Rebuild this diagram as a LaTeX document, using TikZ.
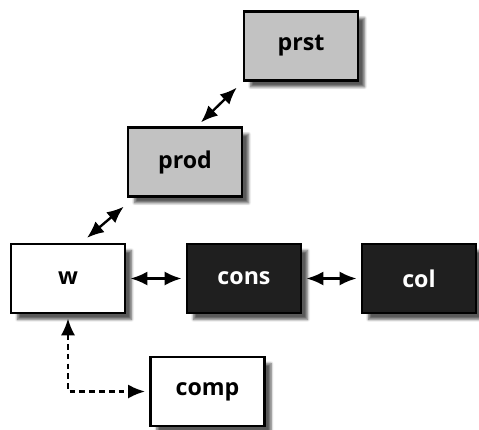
\documentclass[tikz,border=0pt]{standalone}
\usepackage{fontspec}
\setmainfont{Open Sans}
\usetikzlibrary{arrows.meta,shadows.blur}

\begin{document}
\begin{tikzpicture}[x=0.025cm,y=-0.025cm,
  box/.style={rectangle,draw,line width=1.8pt,minimum width=2.85cm,minimum height=1.72cm,
    font=\fontsize{16.5}{18}\selectfont\bfseries,
    blur shadow={shadow xshift=6.5*0.025cm,shadow yshift=-6.5*0.025cm,shadow blur steps=6,shadow blur radius=1.8pt,shadow opacity=65}},
  greybox/.style={box,fill=gray!48},
  darkbox/.style={box,fill=black!88,text=white},
  lightbox/.style={box,fill=white},
  link/.style={{Latex[length=12pt,width=10pt]}-{Latex[length=12pt,width=10pt]},line width=1.7pt,shorten <=3pt,shorten >=3pt}]
  \useasboundingbox (0,0) rectangle (479,429);

  \node [greybox]  (prst) at (301,46)    {prst};
  \node [greybox]  (prod) at (185,162)   {prod};
  \node [lightbox] (w)    at (68,278.5)  {w};
  \node [darkbox]  (cons) at (244,278.5) {cons};
  \node [darkbox]  (col)  at (419,278.5) {col};
  \node [lightbox] (comp) at (207.5,391.5) {comp};

  \draw [link,shorten <=0pt,shorten >=0pt] ([shift={(19,-5)}]w.north) -- ([shift={(-3,9)}]prod.south west);
  \draw [link,shorten <=0pt,shorten >=0pt] ([shift={(16,-4)}]prod.north) -- ([shift={(-6,6)}]prst.south west);
  \draw [link] (w.east) -- (cons.west);
  \draw [link] (cons.east) -- (col.west);
  \draw [link,dash pattern=on 4pt off 3pt] (w.south) |- (comp.west);

\end{tikzpicture}
\end{document}
